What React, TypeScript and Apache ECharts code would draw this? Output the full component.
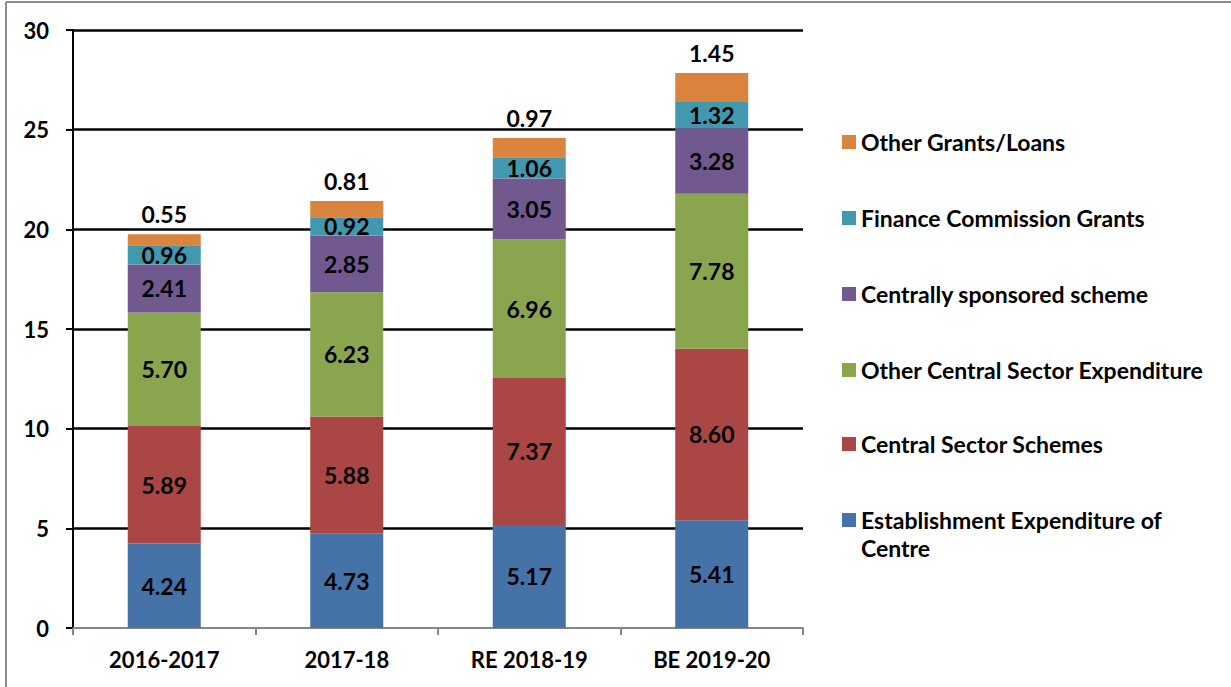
import React, { useEffect, useRef } from "react";
import * as echarts from "echarts";

const categories = ["2016-2017", "2017-18", "RE 2018-19", "BE 2019-20"];
const seriesNames = [
  "Establishment Expenditure of Centre",
  "Central Sector Schemes",
  "Other Central Sector Expenditure",
  "Centrally sponsored scheme",
  "Finance Commission Grants",
  "Other Grants/Loans",
];
const establishment = [4.24, 4.73, 5.17, 5.41];
const centralSectorSchemes = [5.89, 5.88, 7.37, 8.6];
const otherCentralSector = [5.7, 6.23, 6.96, 7.78];
const centrallySponsored = [2.41, 2.85, 3.05, 3.28];
const financeCommission = [0.96, 0.92, 1.06, 1.32];
const otherGrants = [0.55, 0.81, 0.97, 1.45];
const colors = ["#4572A7", "#AA4643", "#89A54E", "#71588F", "#4198AF", "#DB843D"];
const yTicks = [0, 5, 10, 15, 20, 25, 30];

const FONT = "Lato, 'Open Sans', sans-serif";

export default function App() {
  const ref = useRef<HTMLDivElement>(null);
  useEffect(() => {
    if (!ref.current) return;
    const chart = echarts.init(ref.current, null, { renderer: "svg" });
    const values = [
      establishment,
      centralSectorSchemes,
      otherCentralSector,
      centrallySponsored,
      financeCommission,
      otherGrants,
    ];
    const series = seriesNames.map((name, i) => ({
      name,
      type: "bar",
      stack: "total",
      barWidth: "40%",
      data: values[i],
      itemStyle: { color: colors[i] },
      label: {
        show: true,
        position: i === 5 ? "top" : "inside",
        distance: 9,
        formatter: (p: any) => Number(p.value).toFixed(2),
        color: "#000",
        fontSize: 23,
        fontWeight: "bold",
        fontFamily: FONT,
      },
    }));
    const legendCenters = [142, 218, 294, 370, 444, 520];
    const legendOrder = [5, 4, 3, 2, 1, 0];
    const legends = legendOrder.map((si, k) => ({
      show: true,
      orient: "vertical",
      left: 842,
      top: legendCenters[k] - 12,
      padding: 0,
      data: [seriesNames[si]],
      icon: "rect",
      itemWidth: 14,
      itemHeight: 14,
      selectedMode: false,
      formatter: (n: string) =>
        n === "Establishment Expenditure of Centre" ? "Establishment Expenditure of" : n,
      textStyle: {
        color: "#000",
        fontSize: 23,
        fontWeight: "bold",
        fontFamily: FONT,
        lineHeight: 24,
      },
    }));
    chart.setOption({
      animation: false,
      backgroundColor: "#fff",
      grid: { left: 73, right: 428, top: 30, bottom: 59, containLabel: false },
      legend: legends,
      xAxis: {
        type: "category",
        data: categories,
        axisLine: { show: true, lineStyle: { color: "#868686", width: 2 } },
        axisTick: { show: true, length: 7, lineStyle: { color: "#868686", width: 2 } },
        axisLabel: {
          color: "#000",
          fontSize: 22,
          fontWeight: "bold",
          fontFamily: FONT,
          margin: 20,
        },
      },
      yAxis: {
        type: "value",
        min: 0,
        max: 30,
        interval: 5,
        axisLine: { show: true, lineStyle: { color: "#000", width: 2 } },
        axisTick: { show: true, length: 7, lineStyle: { color: "#000", width: 2 } },
        axisLabel: {
          color: "#000",
          fontSize: 22,
          fontWeight: "bold",
          fontFamily: FONT,
          margin: 24,
          formatter: (v: number) => (yTicks.includes(v) ? String(v) : ""),
        },
        splitLine: { show: true, showMinLine: false, lineStyle: { color: "#000", width: 2.5 } },
      },
      series,
      graphic: [
        {
          type: "line",
          shape: { x1: 6, y1: 2, x2: 1231, y2: 2 },
          style: { stroke: "#8c8c8c", lineWidth: 2 },
        },
        {
          type: "line",
          shape: { x1: 6, y1: 2, x2: 6, y2: 687 },
          style: { stroke: "#8c8c8c", lineWidth: 2 },
        },
        {
          type: "text",
          left: 861,
          top: 536,
          style: {
            text: "Centre",
            fill: "#000",
            font: `bold 23px ${FONT}`,
          },
        },
      ],
    });
    return () => chart.dispose();
  }, []);
  return (
    <div
      ref={ref}
      style={{ position: "fixed", left: 0, top: 0, width: 1231, height: 687 }}
    />
  );
}
